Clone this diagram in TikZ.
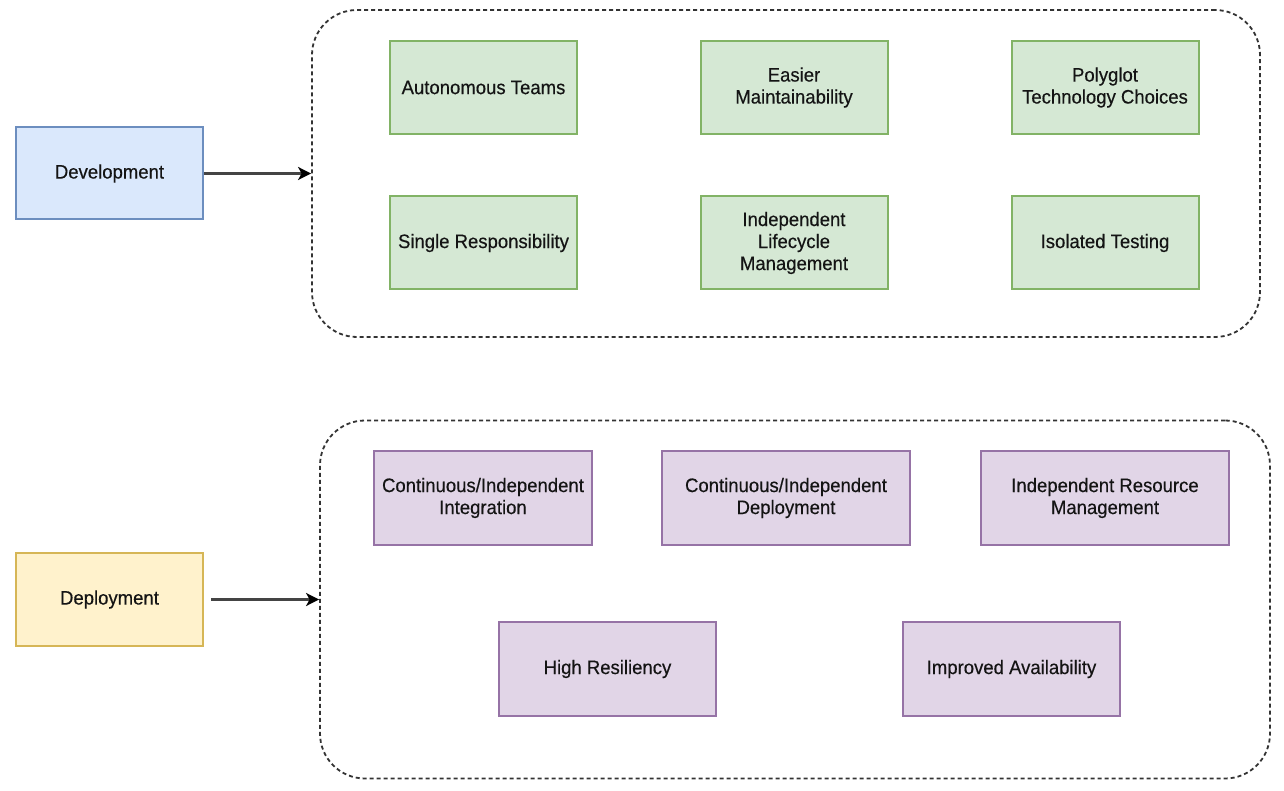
\documentclass[tikz,border=0pt]{standalone}
\usepackage{fontspec}
\setmainfont{Liberation Sans}[FakeStretch=0.95, FakeBold=0.35]
\usetikzlibrary{arrows.meta}
\definecolor{bluefill}{HTML}{DAE8FC}
\definecolor{bluedraw}{HTML}{6C8EBF}
\definecolor{yelfill}{HTML}{FFF2CC}
\definecolor{yeldraw}{HTML}{D6B656}
\definecolor{grnfill}{HTML}{D5E8D4}
\definecolor{grndraw}{HTML}{82B366}
\definecolor{purfill}{HTML}{E1D5E7}
\definecolor{purdraw}{HTML}{9673A6}
\definecolor{ink}{HTML}{141414}
\definecolor{dashc}{HTML}{333333}
\definecolor{arrc}{HTML}{444444}
\tikzset{
  lbl/.style={font=\fontsize{19.5}{22}\selectfont, text=ink, align=center, inner sep=0pt, line width=2pt},
  bluebox/.style={lbl, draw=bluedraw, fill=bluefill, minimum width=187pt, minimum height=92pt},
  yelbox/.style={lbl, draw=yeldraw, fill=yelfill, minimum width=187pt, minimum height=93pt},
  grnbox/.style={lbl, draw=grndraw, fill=grnfill, minimum width=187pt, minimum height=93pt},
  purbox/.style={lbl, draw=purdraw, fill=purfill, minimum height=94pt},
  groupbox/.style={draw=dashc, line width=1.8pt, dash pattern=on 4pt off 3pt, rounded corners=45pt, inner sep=0pt},
  arr/.style={draw=arrc, line width=2.5pt, -{Stealth[length=13pt, width=13pt, inset=3.5pt, color=black, fill=black]}},
}
\begin{document}
\begin{tikzpicture}[x=1pt, y=-1pt]
\fill[white] (0,0) rectangle (1284,791);
\useasboundingbox (0,0) rectangle (1284,791);

% containers
\node[groupbox, minimum width=948pt, minimum height=327pt] (topgrp) at (786,173.5) {};
\node[groupbox, minimum width=950pt, minimum height=358pt] (botgrp) at (795,599.5) {};

% left boxes
\node[bluebox] (dev) at (109.5,173.5) {\raisebox{-2pt}{Development}};
\node[yelbox] (dep) at (109.5,599.5) {\raisebox{-2pt}{Deployment}};

% green boxes
\node[grnbox] (g1) at (483.5,87.5) {Autonomous Teams};
\node[grnbox] (g2) at (794,87.5) {Easier\\Maintainability};
\node[grnbox] (g3) at (1105,87.5) {Polyglot\\Technology Choices};
\node[grnbox] (g4) at (483.5,243) {\raisebox{-2pt}{Single Responsibility}};
\node[grnbox] (g5) at (794,243) {Independent\\Lifecycle\\Management};
\node[grnbox] (g6) at (1105,243) {\raisebox{-2pt}{Isolated Testing}};

% purple boxes
\node[purbox, minimum width=218pt] (p1) at (483,498) {Continuous/Independent\\Integration};
\node[purbox, minimum width=248pt] (p2) at (786,498) {Continuous/Independent\\Deployment};
\node[purbox, minimum width=248pt] (p3) at (1105,498) {Independent Resource\\Management};
\node[purbox, minimum width=217pt] (p4) at (607.5,669) {\raisebox{-2pt}{High Resiliency}};
\node[purbox, minimum width=217pt] (p5) at (1011.5,669) {\raisebox{-2pt}{Improved Availability}};

% arrows
\draw[arr] (dev.east) -- (dev.east -| topgrp.west);
\draw[arr, shorten <=7pt] (dep.east) -- (dep.east -| botgrp.west);
\end{tikzpicture}
\end{document}
